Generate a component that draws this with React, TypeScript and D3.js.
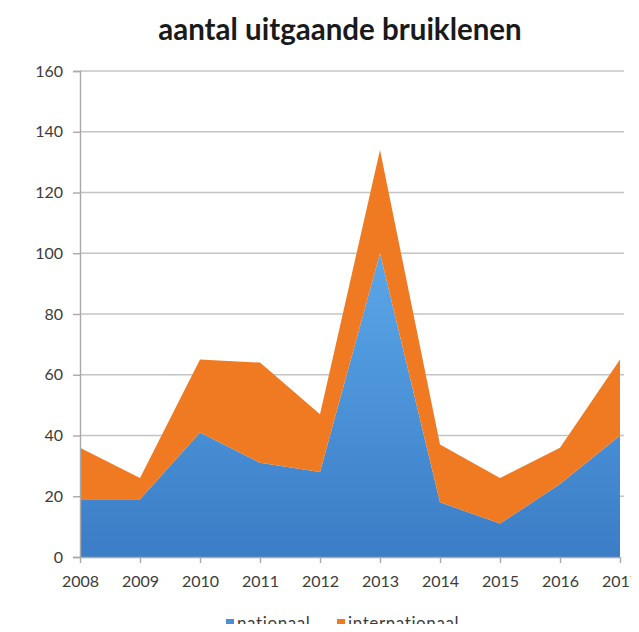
import React, { useRef, useEffect } from 'react';
import * as d3 from 'd3';

const years = ['2008', '2009', '2010', '2011', '2012', '2013', '2014', '2015', '2016', '2017'];
const nationaal = [19, 19, 41, 31, 28, 100, 18, 11, 24, 40];
const internationaal = [17, 7, 24, 33, 19, 34, 19, 15, 12, 25];
const yTicks = [0, 20, 40, 60, 80, 100, 120, 140, 160];

const seriesNames = ['nationaal', 'internationaal'];
const colors = { nationaal: 'url(#blueGrad)', internationaal: '#ef7a22' };
const legendColors = { nationaal: '#4a8fd6', internationaal: '#ef7a22' };

const App = () => {
  const chartRef = useRef<SVGSVGElement>(null);

  useEffect(() => {
    if (!chartRef.current) return;
    const width = 639;
    const height = 632;
    const margin = { top: 71, right: 19, bottom: 75, left: 80 };

    const svg = d3.select(chartRef.current)
      .attr('width', width)
      .attr('height', height)
      .html('');

    const font = 'Lato, "Open Sans", sans-serif';

    const defs = svg.append('defs');
    const grad = defs.append('linearGradient')
      .attr('id', 'blueGrad')
      .attr('x1', 0).attr('y1', 0).attr('x2', 0).attr('y2', 1);
    grad.append('stop').attr('offset', '0%').attr('stop-color', '#5aa6e8');
    grad.append('stop').attr('offset', '100%').attr('stop-color', '#3b7dc6');

    const data = years.map((y, i) => ({ year: y, nationaal: nationaal[i], internationaal: internationaal[i] }));

    const x = d3.scalePoint()
      .domain(years)
      .range([margin.left, width - margin.right]);

    const y = d3.scaleLinear()
      .domain([0, 160])
      .range([height - margin.bottom, margin.top]);

    // gridlines
    svg.append('g')
      .selectAll('line')
      .data(yTicks.filter(t => t > 0))
      .enter().append('line')
      .attr('x1', margin.left)
      .attr('x2', width - margin.right + 4)
      .attr('y1', d => y(d))
      .attr('y2', d => y(d))
      .attr('stroke', '#c4c4c4')
      .attr('stroke-width', 1.6);

    const stacked = d3.stack().keys(seriesNames)(data as any);

    const area = d3.area<any>()
      .x(d => x(d.data.year) as number)
      .y0(d => y(d[0]))
      .y1(d => y(d[1]));

    svg.append('g')
      .selectAll('path')
      .data(stacked)
      .enter().append('path')
      .attr('d', area)
      .attr('fill', d => colors[d.key]);

    // y axis
    const yAxis = svg.append('g')
      .attr('transform', `translate(${margin.left},0)`)
      .call(d3.axisLeft(y).tickValues(yTicks).tickSize(7).tickPadding(10));
    yAxis.select('.domain').attr('stroke', '#a8a8a8').attr('stroke-width', 1.4);
    yAxis.selectAll('.tick line').attr('stroke', '#a8a8a8').attr('stroke-width', 1.4);
    yAxis.selectAll('text')
      .attr('font-family', font)
      .attr('font-size', 16)
      .attr('fill', '#3c3c3c');

    // x axis
    const xAxis = svg.append('g')
      .attr('transform', `translate(0,${height - margin.bottom})`)
      .call(d3.axisBottom(x).tickSize(6).tickPadding(13).tickSizeOuter(0));
    xAxis.select('.domain').attr('stroke', '#a8a8a8').attr('stroke-width', 1.4);
    xAxis.selectAll('.tick line').attr('stroke', '#a8a8a8').attr('stroke-width', 1.4);
    xAxis.selectAll('text')
      .attr('font-family', font)
      .attr('font-size', 16)
      .attr('fill', '#3c3c3c');

    // title
    svg.append('text')
      .attr('x', 340)
      .attr('y', 40)
      .attr('text-anchor', 'middle')
      .attr('font-family', font)
      .attr('font-weight', 'bold')
      .attr('font-size', 29.5)
      .attr('fill', '#1a1a1a')
      .text('aantal uitgaande bruiklenen');

    // legend
    const legendItems = [
      { name: 'nationaal', x: 226 },
      { name: 'internationaal', x: 337 }
    ];
    const legend = svg.append('g').attr('transform', 'translate(0,619)');
    legend.selectAll('rect')
      .data(legendItems)
      .enter().append('rect')
      .attr('x', d => d.x)
      .attr('y', 0)
      .attr('width', 8)
      .attr('height', 9)
      .attr('fill', d => legendColors[d.name]);
    legend.selectAll('text')
      .data(legendItems)
      .enter().append('text')
      .attr('x', d => d.x + 11)
      .attr('y', 10)
      .attr('font-family', font)
      .attr('font-size', 17)
      .attr('letter-spacing', 0.6)
      .attr('fill', '#3c3c3c')
      .text(d => d.name);
  }, []);

  return (
    <div style={{ margin: -8 }}>
      <svg ref={chartRef} style={{ display: 'block', background: '#fff' }}></svg>
    </div>
  );
};

export default App;
